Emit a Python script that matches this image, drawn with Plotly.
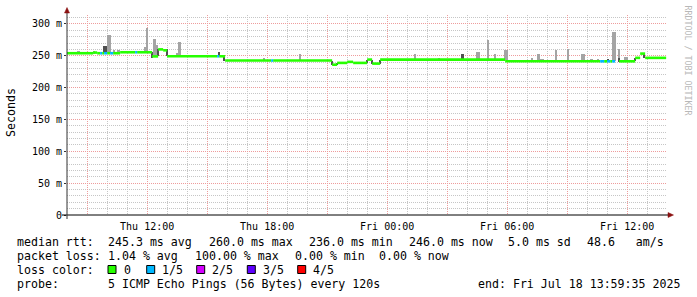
import plotly.graph_objects as go

# ---------------- data ----------------
# median RTT (ms) as steps: start time, value, lost pings (of 5); None = 100 % loss
med_start = ["2025-07-17 07:59:35", "2025-07-17 09:18", "2025-07-17 09:30", "2025-07-17 09:39",
             "2025-07-17 09:45", "2025-07-17 09:51", "2025-07-17 10:00", "2025-07-17 10:09",
             "2025-07-17 10:18", "2025-07-17 10:39", "2025-07-17 11:24", "2025-07-17 11:30",
             "2025-07-17 12:15", "2025-07-17 12:33", "2025-07-17 12:48", "2025-07-17 13:00",
             "2025-07-17 15:30", "2025-07-17 15:36", "2025-07-17 15:54", "2025-07-17 18:12",
             "2025-07-17 18:18", "2025-07-17 21:15", "2025-07-17 21:30", "2025-07-17 22:00",
             "2025-07-17 22:18", "2025-07-17 23:00", "2025-07-17 23:15", "2025-07-17 23:39",
             "2025-07-18 05:54", "2025-07-18 10:39", "2025-07-18 10:51", "2025-07-18 11:00",
             "2025-07-18 11:09", "2025-07-18 11:15", "2025-07-18 11:24", "2025-07-18 11:36",
             "2025-07-18 12:24", "2025-07-18 12:39", "2025-07-18 12:54"]
med_value = [254.0, 255.0, 254.0, 254.0,
             254.0, 254.0, 254.0, 254.0,
             254.0, 255.5, 255.5, 255.5,
             249.0, 260.0, 258.6, 249.2,
             249.2, 249.2, 242.5, 242.5,
             242.5, 236.0, 238.8, 240.4,
             238.8, 244.0, 237.7, 244.0,
             241.3, 241.3, 241.3, 241.3,
             241.3, 241.3, None, 241.3,
             246.7, 253.4, 246.7]
med_loss = [0, 0, 0, 1,
            0, 1, 0, 1,
            0, 0, 1, 0,
            0, 0, 0, 0,
            1, 0, 0, 1,
            0, 0, 0, 0,
            0, 0, 0, 0,
            0, 1, 0, 1,
            0, 1, 5, 0,
            0, 0, 0]
med_end = "2025-07-18 13:57"

# smoke (spread of the pings): light and dark shades, low / high in ms
light_time = ["2025-07-17 08:33", "2025-07-17 08:37", "2025-07-17 09:21", "2025-07-17 10:04",
              "2025-07-17 10:09", "2025-07-17 10:21", "2025-07-17 10:33", "2025-07-17 10:37",
              "2025-07-17 11:55", "2025-07-17 12:00", "2025-07-17 12:22", "2025-07-17 12:25",
              "2025-07-17 12:29", "2025-07-17 13:31", "2025-07-17 13:36", "2025-07-17 13:39",
              "2025-07-17 17:51", "2025-07-17 19:40", "2025-07-18 01:24", "2025-07-18 02:36",
              "2025-07-18 04:31", "2025-07-18 04:35", "2025-07-18 05:03", "2025-07-18 05:25",
              "2025-07-18 05:55", "2025-07-18 05:59", "2025-07-18 07:15", "2025-07-18 07:33",
              "2025-07-18 07:37", "2025-07-18 07:43", "2025-07-18 07:47", "2025-07-18 08:27",
              "2025-07-18 09:03", "2025-07-18 09:46", "2025-07-18 09:51", "2025-07-18 10:12",
              "2025-07-18 10:16", "2025-07-18 10:33", "2025-07-18 11:19", "2025-07-18 11:23",
              "2025-07-18 11:36", "2025-07-18 11:55", "2025-07-18 11:59"]
light_lo = [254, 254, 254, 254,
            254, 254, 254, 254,
            255.5, 255.5, 249, 249,
            249, 249, 249, 249,
            242.5, 242.5, 244, 244,
            244, 244, 244, 244,
            243, 243, 241.3, 241.3,
            241.3, 241.3, 241.3, 241.3,
            241.3, 241.3, 241.3, 241.3,
            241.3, 241.3, 241.3, 241.3,
            241.3, 241.3, 241.3]
light_hi = [257, 257, 257, 283,
            283, 258.6, 259.7, 259.7,
            263, 294, 277, 277,
            267.5, 255, 271, 271,
            246.7, 252, 252, 246.7,
            255.5, 255.5, 275.4, 253,
            259.7, 259.7, 246.7, 252,
            252, 245.6, 245.6, 258.6,
            261, 253, 253, 245,
            245, 245, 286.8, 286.8,
            260.8, 248, 248]

dark_time = ["2025-07-17 09:52", "2025-07-17 09:57", "2025-07-17 12:16", "2025-07-17 12:32",
             "2025-07-17 13:00", "2025-07-17 15:36", "2025-07-17 15:52", "2025-07-17 21:15",
             "2025-07-17 21:30", "2025-07-17 23:00", "2025-07-17 23:15", "2025-07-17 23:39",
             "2025-07-18 03:45", "2025-07-18 03:49", "2025-07-18 11:03", "2025-07-18 11:36",
             "2025-07-18 12:25", "2025-07-18 12:52"]
dark_lo = [254, 254, 247, 249,
           249, 249.2, 242.5, 236,
           236, 238.8, 237.7, 237.7,
           244, 244, 241.3, 240,
           241.3, 246.7]
dark_hi = [266, 266, 255.5, 260,
           260, 255.5, 249.2, 242.5,
           239, 244, 244, 244,
           253, 253, 245, 246.7,
           246.7, 253.4]

loss_labels = ["0", "1/5", "2/5", "3/5", "4/5"]
loss_colors = ["#26ff00", "#00b8ff", "#d400ff", "#5e00ff", "#ff0000"]

y_tickvals = [0, 50, 100, 150, 200, 250, 300]
y_ticktext = ["0", "50 m", "100 m", "150 m", "200 m", "250 m", "300 m"]
x_tickvals = ["2025-07-17 09:00", "2025-07-17 12:00", "2025-07-17 15:00", "2025-07-17 18:00",
              "2025-07-17 21:00", "2025-07-18 00:00", "2025-07-18 03:00", "2025-07-18 06:00",
              "2025-07-18 09:00", "2025-07-18 12:00"]
x_ticktext = ["", "Thu 12:00", "", "Thu 18:00", "", "Fri 00:00", "", "Fri 06:00", "", "Fri 12:00"]

legend_rtt = [("median rtt:", 16), ("245.3 ms avg", 107), ("260.0 ms max", 207.5),
              ("236.0 ms min", 307.5), ("246.0 ms now", 407.5), ("5.0 ms sd", 507),
              ("48.6\u00a0\u00a0\u00a0am/s", 586)]
legend_loss = [("packet loss:", 16), ("1.04 % avg", 107), ("100.00 % max", 193.5),
               ("0.00 % min", 294), ("0.00 % now", 378)]
probe_text = "5 ICMP Echo Pings (56 Bytes) every 120s"
end_text = "end: Fri Jul 18 13:59:35 2025"

# ---------------- geometry helpers (pixels -> paper) ----------------
L, T, W, H = 67, 15, 600, 200
def px(x):
    return (x - L) / W
def py(y):
    return (T + H - y) / H

MONO = "DejaVu Sans Mono"
SMOKE_W = 270000  # ms, ~1.5 px

fig = go.Figure()

fig.add_trace(go.Bar(x=light_time, base=light_lo,
                     y=[h - l for h, l in zip(light_hi, light_lo)],
                     width=SMOKE_W, marker=dict(color="#a4a4a4", line=dict(width=0)),
                     hoverinfo="skip"))
fig.add_trace(go.Bar(x=dark_time, base=dark_lo,
                     y=[h - l for h, l in zip(dark_hi, dark_lo)],
                     width=SMOKE_W, marker=dict(color="#505050", line=dict(width=0)),
                     hoverinfo="skip"))

ends = med_start[1:] + [med_end]
for lvl, col in enumerate(loss_colors):
    xs, ys = [], []
    for t0, t1, v, l in zip(med_start, ends, med_value, med_loss):
        if v is None or l != lvl:
            continue
        xs += [t0, t1, None]
        ys += [v, v, None]
    fig.add_trace(go.Scatter(x=xs, y=ys, mode="lines",
                             line=dict(color=col, width=2.6), hoverinfo="skip",
                             connectgaps=False))

grid_minor = "#c6c6c6"
grid_major = "#ee9c9c"

fig.update_layout(
    width=697, height=297,
    margin=dict(l=L, r=697 - L - W, t=T, b=297 - T - H),
    paper_bgcolor="white", plot_bgcolor="white",
    showlegend=False, barmode="overlay", bargap=0,
    font=dict(family=MONO, size=10, color="black"),
    xaxis=dict(type="date", range=["2025-07-17 07:59:35", "2025-07-18 13:59:35"],
               tickmode="array", tickvals=x_tickvals, ticktext=x_ticktext,
               showgrid=True, gridcolor=grid_major, griddash="1px,1px", gridwidth=1,
               ticks="", ticklabelstandoff=4, showline=False, zeroline=False, automargin=False,
               tickfont=dict(family=MONO, size=10, color="black"),
               minor=dict(dtick=3600000, tick0="2025-07-17 00:00", showgrid=True,
                          gridcolor=grid_minor, griddash="1px,1px", gridwidth=1, ticks="")),
    yaxis=dict(range=[0, 314], tickmode="array", tickvals=y_tickvals, ticktext=y_ticktext,
               showgrid=True, gridcolor=grid_major, griddash="1px,1px", gridwidth=1,
               ticks="outside", ticklen=2, tickcolor="#333333",
               showline=False, zeroline=False, automargin=False,
               tickfont=dict(family=MONO, size=10, color="black"),
               minor=dict(dtick=10, tick0=0, showgrid=True, gridcolor=grid_minor,
                          griddash="1px,1px", gridwidth=1, ticks="")),
)

shapes = []
# axes with arrows
shapes.append(dict(type="line", xref="paper", yref="paper", x0=px(62), x1=px(669),
                   y0=py(215), y1=py(215), line=dict(color="black", width=1)))
shapes.append(dict(type="path", xref="paper", yref="paper",
                   path=f"M{px(668)},{py(212.5)} L{px(673.5)},{py(215)} L{px(668)},{py(217.5)} Z",
                   fillcolor="#8b1010", line=dict(color="#8b1010", width=0.5)))
shapes.append(dict(type="line", xref="paper", yref="paper", x0=px(67), x1=px(67),
                   y0=py(219), y1=py(12), line=dict(color="#333333", width=1)))
shapes.append(dict(type="path", xref="paper", yref="paper",
                   path=f"M{px(64.5)},{py(13)} L{px(67)},{py(7.5)} L{px(69.5)},{py(13)} Z",
                   fillcolor="#8b1010", line=dict(color="#8b1010", width=0.5)))

annotations = []
def txt(s, x, y, anchor="left", size=11.6, color="black", angle=0):
    annotations.append(dict(text=s, x=px(x), y=py(y), xref="paper", yref="paper",
                            xanchor=anchor, yanchor="middle", showarrow=False,
                            textangle=angle, borderpad=0,
                            font=dict(family=MONO, size=size, color=color)))

for s, x in legend_rtt:
    txt(s, x, 241.5)
for s, x in legend_loss:
    txt(s, x, 255.5)
txt("loss color:", 16, 269.5)
box_x = [108, 146.7, 196.7, 247.3, 297.7]
for bx, lab, col in zip(box_x, loss_labels, loss_colors):
    shapes.append(dict(type="rect", xref="paper", yref="paper",
                       x0=px(bx), x1=px(bx + 8), y0=py(273.5), y1=py(265.5),
                       fillcolor=col, line=dict(color="black", width=1)))
    txt(lab, bx + 14.5, 269.5)
txt("probe:", 16, 283.5)
txt(probe_text, 107, 283.5)
txt(end_text, 681, 283.5, anchor="right")

txt("Seconds", 11, 113, anchor="center", angle=-90)
txt("RRDTOOL / TOBI OETIKER", 687.5, 60, anchor="center", size=8.3, color="#b8b8b8", angle=90)

fig.update_layout(shapes=shapes, annotations=annotations)
fig.write_html("out.html")
